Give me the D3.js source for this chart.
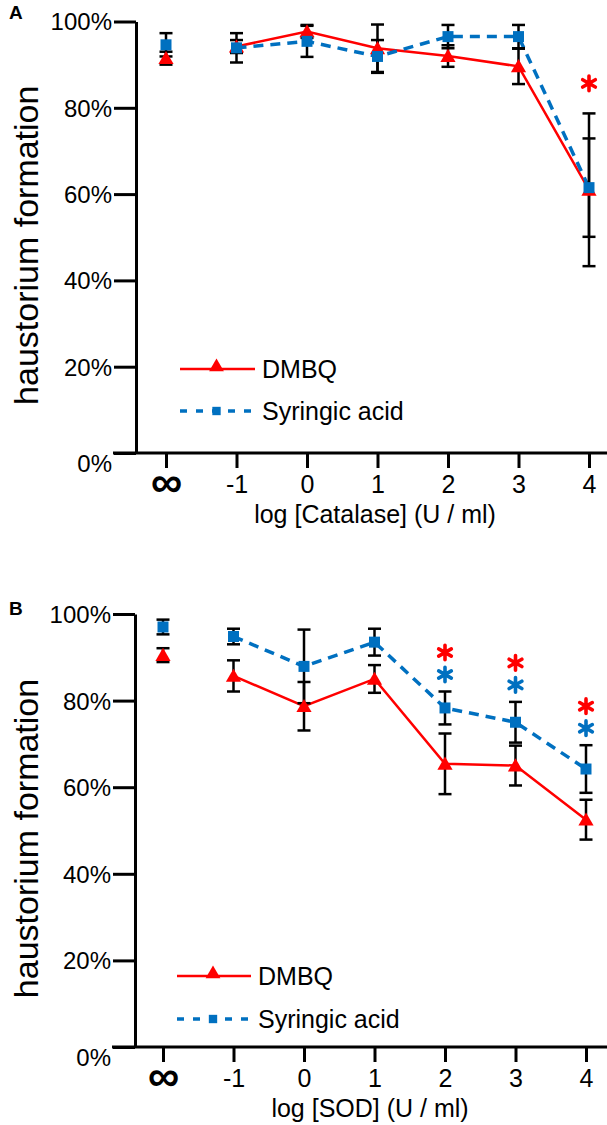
<!DOCTYPE html>
<html><head><meta charset="utf-8">
<script src="https://cdn.jsdelivr.net/npm/d3@7"></script>
<style>body{margin:0;background:#fff} svg{display:block} text{font-family:"Liberation Sans",Arial,sans-serif;fill:#000}</style>
</head><body><svg id="c" width="607" height="1125"></svg>
<script>
const categories = ["∞","-1","0","1","2","3","4"];
const seriesNames = ["DMBQ","Syringic acid"];
const yTicks = [0,20,40,60,80,100];

// Panel A: catalase
const catalaseDMBQ      = [91.5, 94.2, 97.7, 93.8, 92.0, 89.6, 61.0];
const catalaseDMBQErr   = [1.5, 1.5, 1.5, 5.5, 2.5, 4.1, 17.7];
const catalaseSyr       = [94.6, 93.9, 95.4, 91.9, 96.5, 96.5, 61.5];
const catalaseSyrErr    = [2.7, 3.4, 3.6, 3.8, 2.7, 2.7, 11.4];
const catalaseSigDMBQ   = [0,0,0,0,0,0,1];
const catalaseSigSyr    = [0,0,0,0,0,0,0];

// Panel B: SOD
const sodDMBQ      = [90.5, 85.7, 78.7, 85.0, 65.4, 65.0, 52.5];
const sodDMBQErr   = [1.6, 3.6, 5.6, 3.2, 7.0, 4.6, 4.6];
const sodSyr       = [97.0, 94.8, 87.9, 93.5, 78.3, 75.0, 64.2];
const sodSyrErr    = [1.7, 1.8, 8.5, 3.1, 3.8, 4.7, 5.5];
const sodSigDMBQ   = [0,0,0,0,1,1,1];
const sodSigSyr    = [0,0,0,0,1,1,1];

const RED = "#ff0000", BLUE = "#0070c0";
const svg = d3.select("#c");

function panel(cfg){
  const g = svg.append("g");
  const y = d3.scaleLinear().domain([0,100]).range([cfg.y0, cfg.y100]);
  const x = d3.scalePoint().domain(categories).range([cfg.xFirst, cfg.xLast]);

  // panel letter
  g.append("text").attr("x", cfg.letterX).attr("y", cfg.letterY)
    .attr("font-size", 19).attr("font-weight", "bold").text(cfg.letter);

  // y axis
  const ya = g.append("g").attr("transform", `translate(${cfg.axisX},0)`)
    .call(d3.axisLeft(y).tickValues(yTicks).tickSize(22).tickSizeOuter(0).tickPadding(2).tickFormat(d => d + "%"));
  ya.selectAll("path,line").attr("stroke", "#000").attr("stroke-width", 3);
  ya.selectAll("text").attr("font-size", 24).attr("font-family", '"Liberation Sans",Arial,sans-serif')
    .attr("dy", d => d === 0 ? "0.75em" : "0.35em");

  // x axis
  g.append("line").attr("x1", cfg.axisX - 23).attr("x2", 607).attr("y1", y(0)).attr("y2", y(0))
    .attr("stroke", "#000").attr("stroke-width", 3);
  const xa = g.append("g").attr("transform", `translate(0,${y(0)})`)
    .call(d3.axisBottom(x).tickSize(15).tickSizeOuter(0).tickPadding(4));
  xa.select(".domain").remove();
  xa.selectAll("line").attr("stroke", "#000").attr("stroke-width", 3);
  xa.selectAll("text").attr("font-family", '"Liberation Sans",Arial,sans-serif')
    .attr("font-size", d => d === "∞" ? 44 : 25)
    .attr("font-weight", d => d === "∞" ? "bold" : "normal")
    .attr("y", d => d === "∞" ? 44 : 22)
    .attr("dy", d => d === "∞" ? "0" : "0.71em");

  // axis titles
  g.append("text").attr("x", cfg.xTitleX).attr("y", y(0) + 70).attr("text-anchor", "middle")
    .attr("font-size", 25).text(cfg.xTitle);
  g.append("text").attr("transform", `translate(38,${(y(0)+y(100))/2 + 8}) rotate(-90)`)
    .attr("text-anchor", "middle").attr("font-size", 34).text("haustorium formation");

  const series = [
    {name: seriesNames[0], vals: cfg.dmbq, err: cfg.dmbqErr, color: RED, dash: null, sym: d3.symbolTriangle, size: 100, w: 2.5},
    {name: seriesNames[1], vals: cfg.syr, err: cfg.syrErr, color: BLUE, dash: "10,7", sym: d3.symbolSquare, size: 121, w: 3.5}
  ];
  // lines (from -1 onward; ∞ point isolated)
  series.forEach(s => {
    const pts = categories.map((c, i) => [c, s.vals[i]]).slice(1);
    g.append("path").datum(pts)
      .attr("d", d3.line().x(d => x(d[0])).y(d => y(d[1])))
      .attr("fill", "none").attr("stroke", s.color).attr("stroke-width", s.w)
      .attr("stroke-dasharray", s.dash);
  });
  // error bars
  series.forEach(s => {
    categories.forEach((c, i) => {
      const lo = y(s.vals[i] - s.err[i]), hi = y(s.vals[i] + s.err[i]), cx = x(c);
      g.append("line").attr("x1", cx).attr("x2", cx).attr("y1", lo).attr("y2", hi).attr("stroke", "#000").attr("stroke-width", 2.5);
      [lo, hi].forEach(yy => g.append("line").attr("x1", cx - 6.5).attr("x2", cx + 6.5).attr("y1", yy).attr("y2", yy).attr("stroke", "#000").attr("stroke-width", 2.5));
    });
  });
  // markers
  series.forEach(s => {
    g.selectAll(null).data(categories).enter().append("path")
      .attr("transform", (c, i) => `translate(${x(c)},${y(s.vals[i]) + (s.sym === d3.symbolTriangle ? 1.5 : 0)})`)
      .attr("d", d3.symbol().type(s.sym).size(s.size)).attr("fill", s.color);
  });
  // significance asterisks (drawn as asterisk symbols)
  const star = d3.symbol().type(d3.symbolAsterisk).size(150);
  categories.forEach((c, i) => {
    const top = Math.max(cfg.dmbq[i] + cfg.dmbqErr[i], cfg.syr[i] + cfg.syrErr[i]);
    const ty = y(top);
    const both = cfg.sigD[i] && cfg.sigS[i];
    if (cfg.sigS[i]) g.append("path").attr("transform", `translate(${x(c)},${ty - 17})`)
      .attr("d", star).attr("fill", "none").attr("stroke", BLUE).attr("stroke-width", 3.6).attr("stroke-linecap", "round");
    if (cfg.sigD[i]) g.append("path").attr("transform", `translate(${x(c)},${ty - (both ? 39 : 30)})`)
      .attr("d", star).attr("fill", "none").attr("stroke", RED).attr("stroke-width", 3.6).attr("stroke-linecap", "round");
  });
  // legend
  const lg = g.append("g");
  series.forEach((s, k) => {
    const ly = cfg.legY[k];
    lg.append("line").attr("x1", cfg.legX1).attr("x2", cfg.legX2).attr("y1", ly).attr("y2", ly)
      .attr("stroke", s.color).attr("stroke-width", s.w).attr("stroke-dasharray", s.dash ? "7,9" : null);
    lg.append("path").attr("transform", `translate(${(cfg.legX1 + cfg.legX2)/2 - 1},${ly + (k === 0 ? -2 : 0)})`)
      .attr("d", d3.symbol().type(s.sym).size(k === 0 ? 95 : 70)).attr("fill", s.color);
    lg.append("text").attr("x", cfg.legX2 + 7).attr("y", ly).attr("dy", "0.35em").attr("font-size", 25).text(s.name);
  });
}

panel({letter: "A", letterX: 9, letterY: 19, axisX: 136, y0: 453, y100: 21.5, xFirst: 166, xLast: 589,
  dmbq: catalaseDMBQ, dmbqErr: catalaseDMBQErr, syr: catalaseSyr, syrErr: catalaseSyrErr,
  sigD: catalaseSigDMBQ, sigS: catalaseSigSyr, xTitle: "log [Catalase] (U / ml)", xTitleX: 375,
  legX1: 180, legX2: 255, legY: [369, 411]});
panel({letter: "B", letterX: 9, letterY: 615, axisX: 135, y0: 1047, y100: 614, xFirst: 163, xLast: 586,
  dmbq: sodDMBQ, dmbqErr: sodDMBQErr, syr: sodSyr, syrErr: sodSyrErr,
  sigD: sodSigDMBQ, sigS: sodSigSyr, xTitle: "log [SOD] (U / ml)", xTitleX: 370,
  legX1: 177, legX2: 251, legY: [976, 1019]});
</script></body></html>
